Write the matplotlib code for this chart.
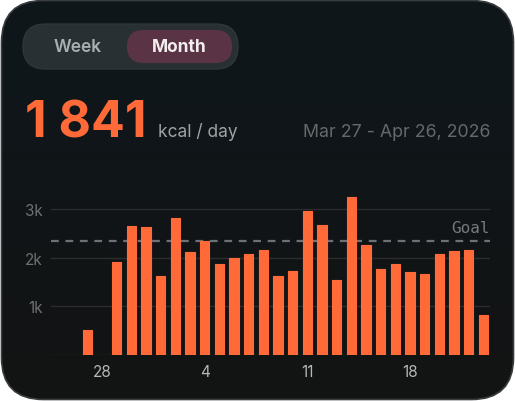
import numpy as np
from matplotlib import pyplot as plt
from matplotlib.patches import FancyBboxPatch

# daily intake, Mar 27 .. Apr 23 (None = no entry)
day_labels = ["28", "4", "11", "18"]
day_label_pos = [1, 8, 15, 22]
kcal = [510, None, 1905, 2655, 2625, 1615, 2810, 2110, 2345, 1865,
        1995, 2080, 2150, 1615, 1725, 2960, 2665, 1545, 3255, 2260,
        1765, 1875, 1710, 1660, 2080, 2145, 2165, 825]
goal = 2350
y_ticks = [1000, 2000, 3000]
y_tick_labels = ["1k", "2k", "3k"]

avg_text = "1 841"
unit_text = "kcal / day"
range_text = "Mar 27 - Apr 26, 2026"

ORANGE = "#ff6a38"
W, H = 515, 402

plt.rcParams["font.family"] = ["Inter", "DejaVu Sans"]

fig = plt.figure(figsize=(W / 100, H / 100), dpi=100)
fig.patch.set_facecolor("white")

# card background in pixel coords
bg = fig.add_axes([0, 0, 1, 1])
bg.set_xlim(0, W)
bg.set_ylim(0, H)
bg.axis("off")

card = FancyBboxPatch((1.5, 1.5), W - 3, H - 3,
                      boxstyle="round,pad=0,rounding_size=42",
                      facecolor="none", edgecolor="#3a3d40", lw=1.2, zorder=3)
bg.add_patch(card)
grad = np.linspace(0, 1, 256).reshape(-1, 1)
top = np.array([0x0e, 0x17, 0x1b]) / 255
bot = np.array([0x13, 0x13, 0x13]) / 255
img = top + (bot - top) * grad[..., None]
im = bg.imshow(img, extent=(0, W, 0, H), origin="upper", aspect="auto", zorder=1)
clip = FancyBboxPatch((1.5, 1.5), W - 3, H - 3,
                      boxstyle="round,pad=0,rounding_size=42",
                      facecolor="none", edgecolor="none", transform=bg.transData)
im.set_clip_path(clip)

# Week / Month toggle
bg.add_patch(FancyBboxPatch((23, 332), 215, 45, boxstyle="round,pad=0,rounding_size=22.5",
                            facecolor="#283034", edgecolor="#2f373b", lw=1, zorder=4))
bg.add_patch(FancyBboxPatch((127, 338), 105, 33, boxstyle="round,pad=0,rounding_size=16.5",
                            facecolor="#5a3444", edgecolor="none", zorder=5))
bg.text(78, 355, "Week", color="#a7afb0", fontsize=12.5, fontweight="semibold",
        ha="center", va="center", zorder=6)
bg.text(179, 355, "Month", color="#f2eef0", fontsize=12.5, fontweight="bold",
        ha="center", va="center", zorder=6)

# headline
bg.text(25, 265, avg_text, color=ORANGE, fontsize=36, fontweight="bold",
        ha="left", va="baseline", zorder=6)
bg.text(158, 265, unit_text, color="#a0a3a5", fontsize=12.5,
        ha="left", va="baseline", zorder=6)
bg.text(490, 265, range_text, color="#64696b", fontsize=12.8,
        ha="right", va="baseline", zorder=6)

# bar chart
ax = fig.add_axes([51 / W, (H - 355.7) / H, (490 - 51) / W, (355.7 - 195.7) / H])
ax.patch.set_alpha(0)
xs = [i for i, v in enumerate(kcal) if v is not None]
vals = [v for v in kcal if v is not None]
ax.bar(xs, vals, width=0.63, color=ORANGE, edgecolor=ORANGE, lw=0.8,
       joinstyle="round", zorder=3)

for y in [0] + y_ticks:
    ax.axhline(y, color="#2b2c2d", lw=1, zorder=1)
ax.axhline(goal, color="#6e7173", lw=1.6, ls=(0, (3.5, 3)), zorder=2)
ax.text(27.45, goal + 110, "Goal", family="DejaVu Sans Mono", fontsize=11.5,
        color="#75797b", ha="right", va="bottom")

ax.set_xlim(-2.47, 27.45)
ax.set_ylim(0, 3300)
ax.set_yticks(y_ticks)
ax.set_yticklabels(y_tick_labels)
ax.set_xticks(day_label_pos)
ax.set_xticklabels(day_labels)
ax.tick_params(axis="y", length=0, pad=6, labelsize=11, labelcolor="#6d7072")
ax.tick_params(axis="x", length=0, pad=7, labelsize=11, labelcolor="#b4b6b7")
for s in ax.spines.values():
    s.set_visible(False)

fig.savefig("out.png", dpi=100, facecolor="white")
